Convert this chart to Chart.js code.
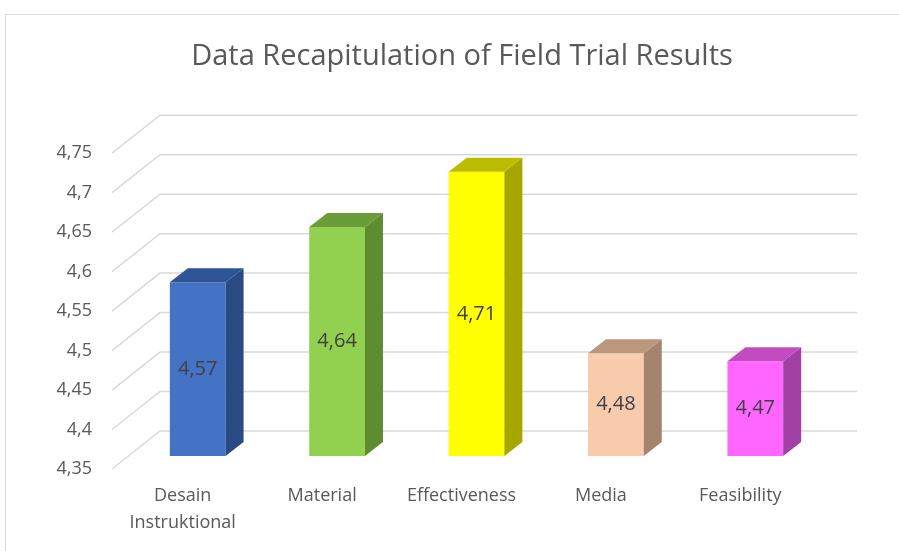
<!DOCTYPE html>
<html>
<head>
<meta charset="utf-8">
<script src="https://cdn.jsdelivr.net/npm/chart.js@4"></script>
<style>
  html, body { margin: 0; padding: 0; background: #fff; }
</style>
</head>
<body>
<canvas id="chart" width="899" height="551"></canvas>
<script>
const categories = [["Desain", "Instruktional"], "Material", "Effectiveness", "Media", "Feasibility"];
const scores = [4.57, 4.64, 4.71, 4.48, 4.47];
const yTicks = [4.35, 4.4, 4.45, 4.5, 4.55, 4.6, 4.65, 4.7, 4.75];

const frontColors = ["#4472c4", "#92d050", "#ffff00", "#f8cbad", "#ff66ff"];
const sideColors = ["#2a4a84", "#5e8c31", "#a6a600", "#a5846d", "#a23fa2"];
const topColors = ["#2f5597", "#6a9d3a", "#bdbd00", "#bb977c", "#c04cc0"];

const FONT = "'Open Sans', Lato, sans-serif";
// offsets of the fake 3d planes, relative to the bar front plane
const DEPTH = { dx: 18, dy: -14 };
const WALL = { dx: 32, dy: -25 };
const FLOOR = { dx: -16, dy: 13 };

const fmt = (v) => String(Number(v.toFixed(2))).replace(".", ",");

const fake3d = {
  id: "fake3d",
  beforeDraw(chart) {
    const { ctx } = chart;
    ctx.save();
    ctx.strokeStyle = "#d9d9d9";
    ctx.lineWidth = 1;
    ctx.strokeRect(5.5, 14.5, 1000, 1000);
    ctx.restore();
  },
  beforeDatasetsDraw(chart) {
    const { ctx, chartArea } = chart;
    const y = chart.scales.y;
    ctx.save();
    ctx.strokeStyle = "#d9d9d9";
    ctx.lineWidth = 1.5;
    y.ticks.forEach((t) => {
      const py = y.getPixelForValue(t.value);
      ctx.beginPath();
      ctx.moveTo(chartArea.left + FLOOR.dx, py + FLOOR.dy);
      ctx.lineTo(chartArea.left + WALL.dx, py + WALL.dy);
      ctx.lineTo(chartArea.right + WALL.dx, py + WALL.dy);
      ctx.stroke();
    });
    ctx.restore();
  },
  afterDatasetsDraw(chart) {
    const { ctx } = chart;
    const yScale = chart.scales.y;
    const base = yScale.getPixelForValue(yScale.min);
    const bars = chart.getDatasetMeta(0).data;
    ctx.save();
    bars.forEach((bar, i) => {
      const { x, y, width } = bar.getProps(["x", "y", "width"], true);
      const l = x - width / 2;
      const r = x + width / 2;
      // right side
      ctx.fillStyle = sideColors[i];
      ctx.beginPath();
      ctx.moveTo(r, y);
      ctx.lineTo(r + DEPTH.dx, y + DEPTH.dy);
      ctx.lineTo(r + DEPTH.dx, base + DEPTH.dy);
      ctx.lineTo(r, base);
      ctx.closePath();
      ctx.fill();
      // top
      ctx.fillStyle = topColors[i];
      ctx.beginPath();
      ctx.moveTo(l, y);
      ctx.lineTo(l + DEPTH.dx, y + DEPTH.dy);
      ctx.lineTo(r + DEPTH.dx, y + DEPTH.dy);
      ctx.lineTo(r, y);
      ctx.closePath();
      ctx.fill();
      // value label
      ctx.fillStyle = "#404040";
      ctx.font = "20px " + FONT;
      ctx.textAlign = "center";
      ctx.textBaseline = "middle";
      ctx.fillText(fmt(scores[i]), x, (y + base) / 2);
    });
    ctx.restore();
  },
};

new Chart(document.getElementById("chart"), {
  type: "bar",
  data: {
    labels: categories,
    datasets: [
      {
        data: scores,
        backgroundColor: frontColors,
        borderWidth: 0,
        barPercentage: 0.4,
        categoryPercentage: 1,
      },
    ],
  },
  options: {
    responsive: false,
    animation: false,
    events: [],
    layout: { padding: { left: 25, right: 0, top: 0, bottom: 0 } },
    plugins: {
      legend: { display: false },
      tooltip: { enabled: false },
      title: {
        display: true,
        text: "Data Recapitulation of Field Trial Results",
        color: "#595959",
        font: { family: FONT, size: 29, weight: "normal" },
        padding: { top: 39.6, bottom: 65.8 },
      },
    },
    scales: {
      x: {
        afterFit(scale) {
          scale.height = 95;
        },
        grid: { display: false, drawTicks: false },
        border: { display: false },
        ticks: {
          color: "#595959",
          font: { family: FONT, size: 18, lineHeight: 1.5 },
          padding: 26,
          labelOffset: -15,
          maxRotation: 0,
          autoSkip: false,
        },
      },
      y: {
        min: 4.35,
        max: 4.75,
        afterFit(scale) {
          scale.width = 103;
        },
        afterBuildTicks(scale) {
          scale.ticks = yTicks.map((v) => ({ value: v }));
        },
        grid: { display: false, drawTicks: false },
        border: { display: false },
        ticks: {
          color: "#595959",
          font: { family: FONT, size: 18 },
          padding: 36,
          labelOffset: 13,
          callback: (v) => fmt(v),
        },
      },
      // empty right axis, only keeps room for the back wall
      spacer: {
        type: "linear",
        position: "right",
        afterFit(scale) {
          scale.width = 74;
        },
        grid: { display: false, drawTicks: false },
        border: { display: false },
        ticks: { display: false },
      },
    },
  },
  plugins: [fake3d],
});
</script>
</body>
</html>
